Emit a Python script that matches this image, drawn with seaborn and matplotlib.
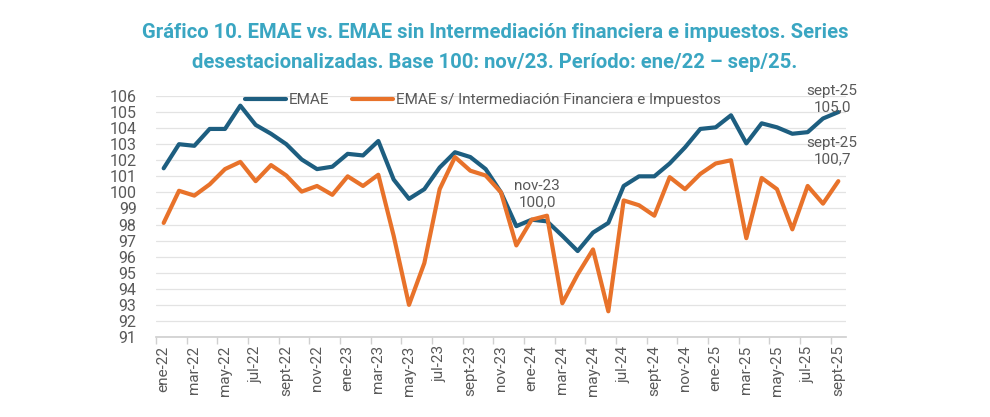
import matplotlib
matplotlib.use("Agg")
import matplotlib.pyplot as plt
import seaborn as sns
import pandas as pd
import numpy as np

months = ["ene","feb","mar","abr","may","jun","jul","ago","sept","oct","nov","dic"]
categories = [f"{m}-{y}" for y in ["22","23","24","25"] for m in months][:45]

emae = [101.5, 103.0, 102.9, 103.95, 103.95, 105.4, 104.2, 103.65, 103.0, 102.05,
        101.45, 101.6, 102.4, 102.3, 103.2, 100.8, 99.6, 100.2, 101.55, 102.5,
        102.2, 101.45, 100.0, 97.9, 98.3, 98.2, 97.3, 96.35, 97.5, 98.1,
        100.4, 101.0, 101.0, 101.8, 102.8, 103.95, 104.05, 104.8, 103.05, 104.3,
        104.05, 103.65, 103.75, 104.6, 105.0]
emae_sin = [98.1, 100.1, 99.8, 100.5, 101.45, 101.9, 100.7, 101.7, 101.05, 100.05,
            100.4, 99.85, 101.0, 100.4, 101.1, 97.3, 93.0, 95.6, 100.2, 102.2,
            101.35, 101.05, 100.0, 96.7, 98.3, 98.55, 93.1, 94.9, 96.45, 92.6,
            99.5, 99.2, 98.55, 100.95, 100.2, 101.15, 101.8, 102.0, 97.15, 100.9,
            100.2, 97.7, 100.4, 99.3, 100.7]
series_names = ["EMAE", "EMAE s/ Intermediación Financiera e Impuestos"]
yticks = list(range(91, 107))

blue = "#1d5e80"
orange = "#e8722a"
gray_txt = "#595959"

sns.set_theme(style="white")
plt.rcParams['font.family'] = ['Roboto', 'DejaVu Sans']

df = pd.DataFrame({
    "pos": list(range(len(categories))) * 2,
    "valor": emae + emae_sin,
    "serie": [series_names[0]] * len(emae) + [series_names[1]] * len(emae_sin),
})

fig = plt.figure(figsize=(9.9, 4.17), dpi=100)
ax = fig.add_axes([156/990, 1-337/417, 690/990, 241/417])

sns.lineplot(data=df, x="pos", y="valor", hue="serie",
             palette={series_names[0]: blue, series_names[1]: orange},
             linewidth=3.0, ax=ax, legend=True)
for ln in ax.get_lines():
    ln.set_solid_joinstyle("round")
    ln.set_solid_capstyle("round")

ax.set_xlim(-0.5, len(categories) - 0.5)
ax.set_ylim(91, 106)
ax.set_yticks(yticks)
ax.set_yticklabels([str(v) for v in yticks], color=gray_txt, fontsize=11.5)
ax.yaxis.grid(True, color="#e3e3e3", linewidth=0.9)
ax.set_axisbelow(True)
for s in ["top", "right", "left"]:
    ax.spines[s].set_visible(False)
ax.spines["bottom"].set_color("#d0d0d0")
ax.tick_params(axis="y", length=0, pad=14)

lab_pos = list(range(0, len(categories), 2))
ax.set_xticks(lab_pos)
ax.set_xticklabels([categories[i] for i in lab_pos], rotation=90,
                   color=gray_txt, fontsize=11)
ax.set_xticks([p - 0.5 for p in lab_pos], minor=True)
ax.tick_params(axis="x", which="major", length=0, pad=6)
ax.tick_params(axis="x", which="minor", length=5, color="#d0d0d0", bottom=True)
ax.set_xlabel("")
ax.set_ylabel("")

leg = ax.legend(loc="upper left", bbox_to_anchor=(245/990, 1-93/417),
                bbox_transform=fig.transFigure, ncol=2, frameon=False,
                fontsize=11, handlelength=2.7, handletextpad=0.15,
                columnspacing=1.5, borderaxespad=0, borderpad=0)
for t in leg.get_texts():
    t.set_color(gray_txt)
for h in leg.legend_handles:
    h.set_linewidth(3.0)

ax.text(24.35, 99.9, "nov-23\n100,0", ha="center", va="center",
        color=gray_txt, fontsize=11, linespacing=1.2)
ax.text(43.6, 105.8, "sept-25\n105,0", ha="center", va="center",
        color=gray_txt, fontsize=11, linespacing=1.2, clip_on=False)
ax.text(43.6, 102.54, "sept-25\n100,7", ha="center", va="center",
        color=gray_txt, fontsize=11, linespacing=1.2, clip_on=False)

fig.text(0.5, 1-47.5/417,
         "Gráfico 10. EMAE vs. EMAE sin Intermediación financiera e impuestos. Series\n"
         "desestacionalizadas. Base 100: nov/23. Período: ene/22 – sep/25.",
         ha="center", va="center", color="#3aa6c2", fontsize=14.6,
         fontweight="bold", linespacing=1.75)

fig.savefig("out.png", dpi=100, facecolor="white")
